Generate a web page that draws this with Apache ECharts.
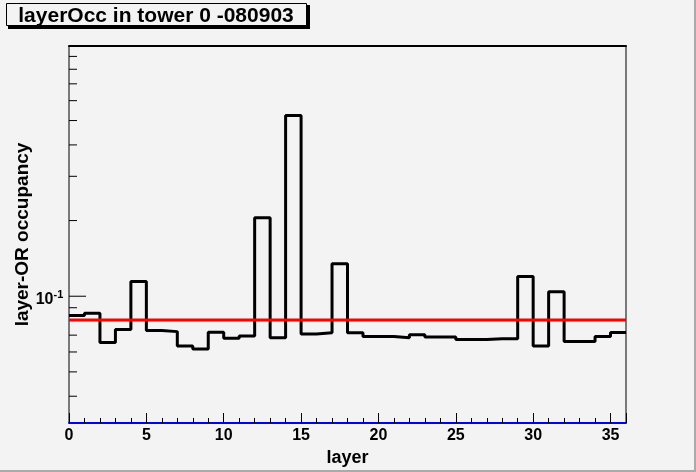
<!DOCTYPE html>
<html>
<head>
<meta charset="utf-8">
<script src="https://cdn.jsdelivr.net/npm/echarts@6/dist/echarts.min.js"></script>
<style>
  html, body { margin: 0; padding: 0; background: #f3f3f3; }
  #chart { width: 696px; height: 472px; }
</style>
</head>
<body>
<div id="chart"></div>
<script>
// occupancy per layer, bins 0..35
var occupancy = [
  0.0838, 0.0856, 0.0654, 0.0737, 0.1144, 0.0730, 0.0723, 0.0634, 0.0617,
  0.0719, 0.0681, 0.0695, 0.2052, 0.0683, 0.5234, 0.0708, 0.0715, 0.1346,
  0.0715, 0.0691, 0.0691, 0.0683, 0.0702, 0.0689, 0.0689, 0.0672, 0.0672,
  0.0678, 0.0678, 0.1198, 0.0634, 0.1041, 0.0660, 0.0660, 0.0691, 0.0717
];
var meanLevel = 0.0805;   // red line
var yMin = 0.0313, yMax = 0.99;
var xMin = 0, xMax = 36;
var yTicks = [0.04, 0.05, 0.06, 0.07, 0.08, 0.09, 0.1, 0.2, 0.3, 0.4, 0.5, 0.6, 0.7, 0.8, 0.9];
var yMajor = [0.1];

var font = '"Liberation Sans", Arial, Helvetica, sans-serif';

// histogram as step line: left edge of each bin, plus right edge of the last one
var histData = occupancy.map(function (v, i) { return [i, v]; });
histData.push([occupancy.length, occupancy[occupancy.length - 1]]);

var chart = echarts.init(document.getElementById('chart'));

var option = {
  backgroundColor: '#f3f3f3',
  animation: false,
  grid: {
    left: 69, right: 70, top: 46, bottom: 49,
    show: true, borderColor: '#000', borderWidth: 1,
    backgroundColor: 'transparent'
  },
  xAxis: [{
    type: 'value',
    min: xMin, max: xMax, interval: 5,
    name: 'layer',
    nameLocation: 'middle',
    nameGap: 21,
    nameTextStyle: { fontFamily: font, fontWeight: 'bold', fontSize: 18, color: '#000' },
    axisLine: { show: true, lineStyle: { color: '#0000ff', width: 2 } },
    axisTick: { show: true, inside: true, length: 10, lineStyle: { color: '#000', width: 1 } },
    minorTick: { show: true, splitNumber: 5, length: 5, lineStyle: { color: '#000', width: 1 } },
    axisLabel: {
      fontFamily: font, fontWeight: 'bold', fontSize: 16, color: '#000',
      margin: 5, showMaxLabel: false
    },
    splitLine: { show: false }
  }, {
    type: 'value',
    position: 'top',
    min: xMin, max: xMax,
    axisLine: { show: true, lineStyle: { color: '#000', width: 2 } },
    axisTick: { show: false },
    axisLabel: { show: false },
    splitLine: { show: false }
  }],
  yAxis: {
    type: 'log',
    logBase: 10,
    min: yMin, max: yMax,
    name: 'layer-OR occupancy',
    nameLocation: 'middle',
    nameGap: 37,
    nameTextStyle: { fontFamily: font, fontWeight: 'bold', fontSize: 19, color: '#000' },
    axisLine: { show: false },
    axisTick: { show: false },
    axisLabel: { show: false },
    splitLine: { show: false }
  },
  graphic: [
    { type: 'rect', shape: { x: 694, y: 0, width: 2, height: 472 }, style: { fill: '#aaaaaa' }, z: 100 },
    { type: 'rect', shape: { x: 0, y: 470, width: 696, height: 2 }, style: { fill: '#aaaaaa' }, z: 100 },
    { type: 'rect', shape: { x: 8, y: 5, width: 302, height: 24 }, style: { fill: '#000' }, z: 100 },
    { type: 'rect', shape: { x: 6.5, y: 3.5, width: 300, height: 22 },
      style: { fill: '#f3f3f3', stroke: '#000', lineWidth: 1 }, z: 101 },
    { type: 'text', x: 156, y: 16, z: 102,
      style: { text: 'layerOcc in tower 0 -080903', font: 'bold 21px ' + font,
               fill: '#000', align: 'center', verticalAlign: 'middle' } }
  ],
  series: [{
    name: 'ticks',
    type: 'custom',
    coordinateSystem: 'cartesian2d',
    silent: true,
    clip: false,
    data: yTicks.map(function (v) { return [xMin, v]; }),
    renderItem: function (params, api) {
      var v = api.value(1);
      var p = api.coord([xMin, v]);
      var major = yMajor.indexOf(v) >= 0;
      var children = [{
        type: 'line',
        shape: { x1: p[0], y1: p[1], x2: p[0] + (major ? 17 : 8), y2: p[1] },
        style: { stroke: '#000', lineWidth: 1 }
      }];
      if (major) {
        children.push({
          type: 'text',
          style: { x: p[0] - 15.5, y: p[1] + 3, text: '10', font: 'bold 16px ' + font,
                   fill: '#000', align: 'right', verticalAlign: 'middle' }
        });
        children.push({
          type: 'text',
          style: { x: p[0] - 15.5, y: p[1] - 1, text: '-1', font: 'bold 11px ' + font,
                   fill: '#000', align: 'left', verticalAlign: 'middle' }
        });
      }
      return { type: 'group', children: children };
    }
  }, {
    name: 'layerOcc',
    type: 'line',
    step: 'end',
    data: histData,
    symbol: 'none',
    lineStyle: { color: '#000', width: 3 },
    z: 3
  }, {
    name: 'mean',
    type: 'line',
    data: [[xMin, meanLevel], [xMax, meanLevel]],
    symbol: 'none',
    lineStyle: { color: '#ff0000', width: 3 },
    z: 4
  }]
};

chart.setOption(option);
</script>
</body>
</html>
